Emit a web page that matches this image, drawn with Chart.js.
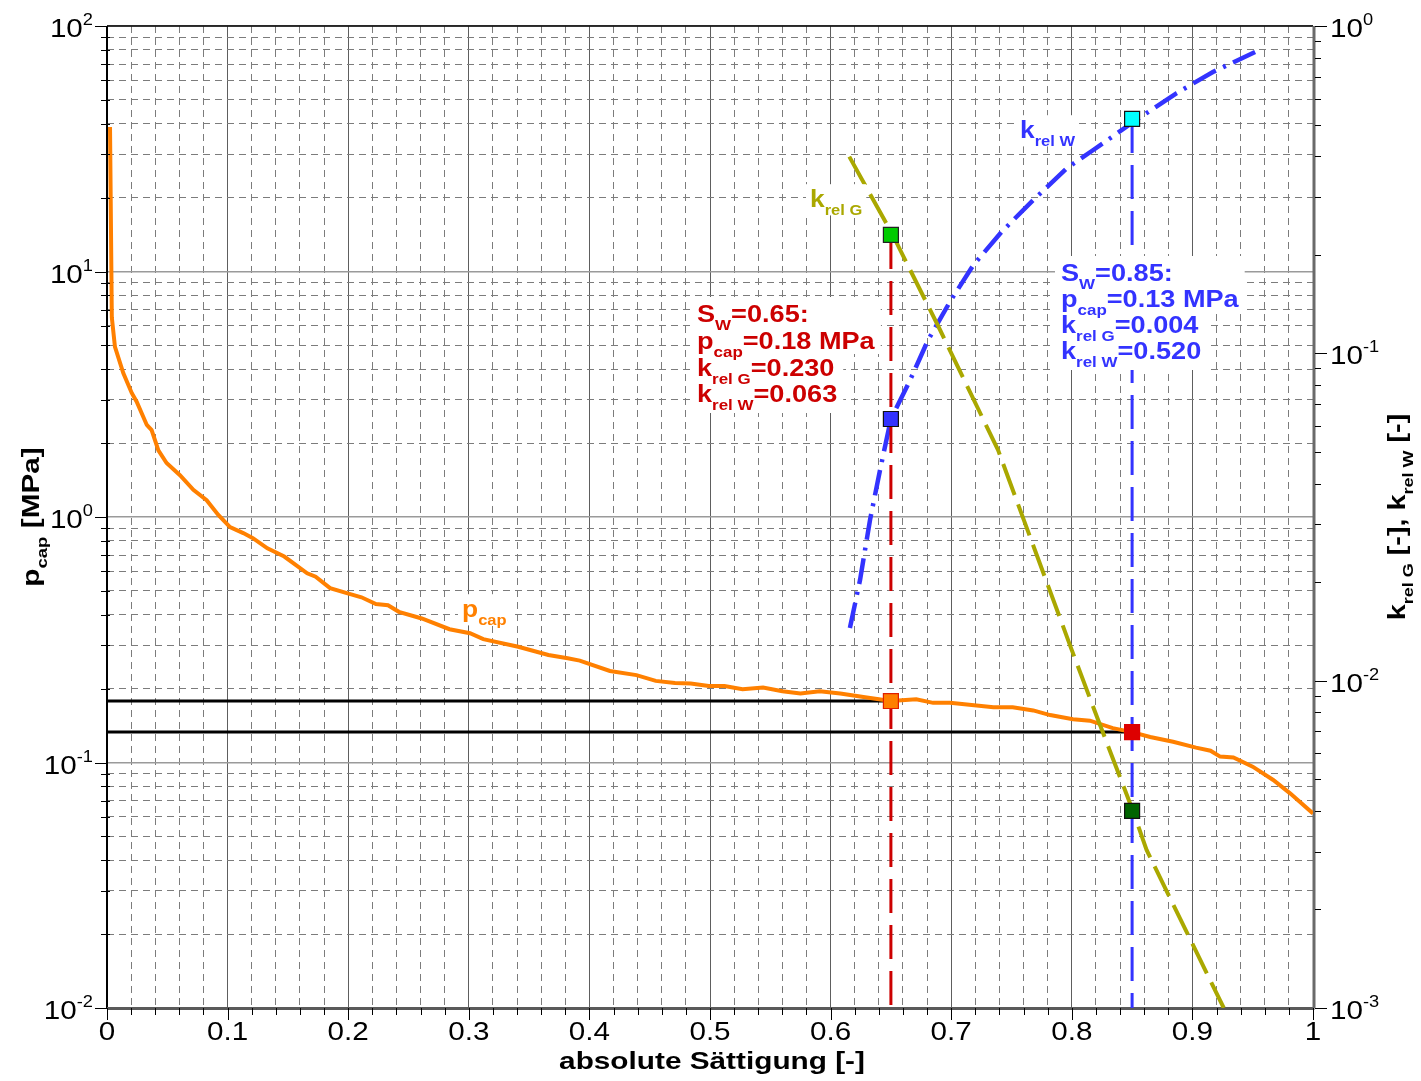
<!DOCTYPE html>
<html><head><meta charset="utf-8">
<script src="https://cdn.jsdelivr.net/npm/chart.js@4.4.0/dist/chart.umd.min.js"></script>
<style>html,body{margin:0;padding:0;background:#fff;}canvas{display:block;}</style>
</head><body>
<canvas id="c" width="1421" height="1081"></canvas>
<script>
// ---------------- data ----------------
const swPcap = [0.0025,0.004,0.0066,0.0135,0.0205,0.0246,0.033,0.037,0.0426,0.0494,0.0605,0.0716,0.0826,0.0923,0.102,0.113,0.121,0.133,0.147,0.166,0.173,0.185,0.201,0.211,0.223,0.233,0.242,0.261,0.284,0.301,0.312,0.341,0.366,0.382,0.392,0.417,0.439,0.455,0.471,0.484,0.499,0.512,0.527,0.544,0.560,0.575,0.591,0.608,0.630,0.65,0.671,0.685,0.699,0.735,0.751,0.768,0.782,0.801,0.815,0.834,0.85,0.865,0.884,0.903,0.915,0.923,0.934,0.950,0.967,0.981,1.0];
const pcap = [38.8,6.5,4.93,3.86,3.2,2.95,2.37,2.26,1.87,1.66,1.48,1.29,1.17,1.02,0.91,0.86,0.82,0.745,0.69,0.59,0.571,0.513,0.486,0.471,0.442,0.437,0.411,0.386,0.349,0.336,0.318,0.296,0.274,0.266,0.26,0.236,0.227,0.215,0.211,0.210,0.205,0.205,0.199,0.202,0.195,0.191,0.195,0.191,0.184,0.178,0.181,0.175,0.175,0.168,0.168,0.163,0.156,0.150,0.148,0.138,0.133,0.127,0.1215,0.115,0.1117,0.1057,0.1048,0.0962,0.0849,0.0749,0.062];
const swKrelG = [0.6155,0.6515,0.690,0.7388,0.800,0.8234,0.8507,0.862,0.926];
const krelG = [0.399,0.230,0.1195,0.0507,0.0124,0.00732,0.004,0.00304,0.001];
const swKrelW = [0.616,0.6244,0.6327,0.641,0.65,0.6653,0.6808,0.699,0.7183,0.7419,0.768,0.7958,0.8178,0.851,0.887,0.917,0.952];
const krelW = [0.01448,0.0203,0.031,0.044,0.063,0.0819,0.1098,0.1438,0.186,0.2352,0.294,0.3674,0.418,0.509,0.624,0.7235,0.833];
const markSw = [0.65, 0.85];
const markPcap = [0.178, 0.133];
const markKrelG = [0.23, 0.004];
const markKrelW = [0.063, 0.52];
const xTickValues = [0,0.1,0.2,0.3,0.4,0.5,0.6,0.7,0.8,0.9,1];
const xTickLabels = ['0','0.1','0.2','0.3','0.4','0.5','0.6','0.7','0.8','0.9','1'];
const pcapExponents = [-2,-1,0,1,2];
const krelExponents = [-3,-2,-1,0];
const xTitle = 'absolute Sättigung [-]';

// ---------------- helpers ----------------
const FONT = '"Liberation Sans", Arial, sans-serif';
const pts = (xs, ys) => xs.map((x, i) => ({x, y: ys[i]}));
function fstr(bold, size){ return (bold ? 'bold ' : '') + size + 'px ' + FONT; }
function richWidth(ctx, parts, o){
  let w = 0;
  for (const p of parts){ ctx.font = fstr(o.bold, p.s ? o.small : o.size); w += ctx.measureText(p.t).width; }
  return w * o.sx;
}
function drawRich(ctx, parts, x, y, o){
  const w = richWidth(ctx, parts, o);
  const x0 = o.align === 'right' ? x - w : o.align === 'center' ? x - w/2 : x;
  if (o.bg){
    ctx.fillStyle = '#fff';
    ctx.fillRect(x0 - 4, y - o.size*0.95, (o.bgW || w) + 8, o.size*1.3);
  }
  ctx.save();
  ctx.translate(x0, y);
  ctx.scale(o.sx, 1);
  ctx.fillStyle = o.color; ctx.textBaseline = 'alphabetic'; ctx.textAlign = 'left';
  let cx = 0;
  for (const p of parts){
    ctx.font = fstr(o.bold, p.s ? o.small : o.size);
    const dy = p.s === 'sub' ? o.subDy : p.s === 'sup' ? o.supDy : 0;
    ctx.fillText(p.t, cx, dy);
    cx += ctx.measureText(p.t).width;
  }
  ctx.restore();
  return w;
}
const isDecade = v => Math.abs(Math.log10(v) - Math.round(Math.log10(v))) < 1e-9;
function logTicks(e0, e1){
  const t = [];
  for (let e = e0; e < e1; e++) for (let m = 1; m < 10; m++) t.push({value: m*Math.pow(10, e), major: m === 1});
  t.push({value: Math.pow(10, e1), major: true});
  return t;
}
const xMinorTicks = () => Array.from({length: 51}, (_, i) => ({value: i/50, major: i % 5 === 0}));

const BLUE = '#3333ff', RED = '#cc0000', OLIVE = '#aaa800', ORANGE = '#ff8000';

// ---------------- plugin ----------------
const deco = {
  id: 'deco',
  beforeDatasetsDraw(chart){
    const {ctx, chartArea: a} = chart;
    ctx.save();
    ctx.lineCap = 'butt';
    ctx.strokeStyle = '#000'; ctx.lineWidth = 2;
    ctx.beginPath(); ctx.moveTo(a.left, a.top); ctx.lineTo(a.left, a.bottom); ctx.stroke();
    ctx.lineWidth = 1.5;
    ctx.beginPath(); ctx.moveTo(a.left, a.top); ctx.lineTo(a.right, a.top); ctx.stroke();
    ctx.strokeStyle = '#5a5a5a'; ctx.lineWidth = 3;
    ctx.beginPath(); ctx.moveTo(a.left, a.bottom + 0.5); ctx.lineTo(a.right + 1.5, a.bottom + 0.5); ctx.stroke();
    ctx.strokeStyle = '#6a6a6a';
    ctx.beginPath(); ctx.moveTo(a.right + 1, a.top); ctx.lineTo(a.right + 1, a.bottom); ctx.stroke();
    ctx.restore();
  },
  afterDatasetsDraw(chart){
    const {ctx} = chart;
    ctx.save();
    const lab = {bold: true, size: 24, small: 15, sx: 1.1, subDy: 8, bg: true};
    drawRich(ctx, [{t:'p'},{t:'cap',s:'sub'}], 462, 617, Object.assign({color: ORANGE}, lab));
    drawRich(ctx, [{t:'k'},{t:'rel G',s:'sub'}], 810, 207, Object.assign({color: OLIVE}, lab));
    drawRich(ctx, [{t:'k'},{t:'rel W',s:'sub'}], 1020, 138, Object.assign({color: BLUE}, lab));

    const block = (i, x, bases, color) => {
      const lines = [
        [{t:'S'},{t:'W',s:'sub'},{t:'=' + markSw[i].toFixed(2) + ':'}],
        [{t:'p'},{t:'cap',s:'sub'},{t:'=' + markPcap[i].toFixed(2) + ' MPa'}],
        [{t:'k'},{t:'rel G',s:'sub'},{t:'=' + markKrelG[i].toFixed(3)}],
        [{t:'k'},{t:'rel W',s:'sub'},{t:'=' + markKrelW[i].toFixed(3)}]
      ];
      const o = {bold: true, size: 24, small: 15, sx: 1.13, subDy: 8, color};
      const ws = lines.map(l => richWidth(ctx, l, o));
      ctx.fillStyle = '#fff';
      lines.forEach((l, k) => {
        const bw = Math.max(ws[k], k < 3 ? ws[k+1] : 0);
        ctx.fillRect(x - 6, bases[k] - 25, bw + 12, k === 3 ? 36 : 30);
      });
      lines.forEach((l, k) => drawRich(ctx, l, x, bases[k], o));
    };
    block(0, 697, [322, 349, 375.5, 402], RED);
    block(1, 1061, [281, 307, 333, 359], BLUE);
    ctx.restore();
  },
  afterDraw(chart){
    const {ctx, chartArea: a, scales} = chart;
    const xs = scales.x, ys = scales.y, y2 = scales.y2;
    ctx.save();
    ctx.strokeStyle = '#000'; ctx.lineWidth = 1;
    const seg = (x1, y1, x2, y2_) => { ctx.beginPath(); ctx.moveTo(x1, y1); ctx.lineTo(x2, y2_); ctx.stroke(); };
    xMinorTicks().forEach(t => {
      const px = Math.round(xs.getPixelForValue(t.value)) + 0.5;
      seg(px, a.bottom, px, a.bottom + (t.major ? 12 : 7));
    });
    logTicks(pcapExponents[0], pcapExponents[pcapExponents.length-1]).forEach(t => {
      const py = Math.round(ys.getPixelForValue(t.value)) + 0.5;
      if (t.major) seg(a.left - 12, py, a.left + 1, py); else seg(a.left - 6, py, a.left + 3, py);
    });
    logTicks(krelExponents[0], krelExponents[krelExponents.length-1]).forEach(t => {
      const py = Math.round(y2.getPixelForValue(t.value)) + 0.5;
      if (t.major) seg(a.right + 2, py, a.right + 14, py); else seg(a.right + 2, py, a.right + 8, py);
    });
    const tk = {bold: false, size: 26, small: 16, sx: 1.14, supDy: -12, color: '#000'};
    xTickValues.forEach((v, i) => {
      drawRich(ctx, [{t: xTickLabels[i]}], xs.getPixelForValue(v), a.bottom + 32, Object.assign({align: 'center'}, tk));
    });
    pcapExponents.forEach(e => {
      const py = ys.getPixelForValue(Math.pow(10, e));
      drawRich(ctx, [{t:'10'},{t:String(e),s:'sup'}], 93, py + 11, Object.assign({align: 'right'}, tk));
    });
    krelExponents.forEach(e => {
      const py = y2.getPixelForValue(Math.pow(10, e));
      drawRich(ctx, [{t:'10'},{t:String(e),s:'sup'}], 1330, py + 11, Object.assign({align: 'left'}, tk));
    });
    const tt = {bold: true, size: 24, small: 15, sx: 1.24, subDy: 8, color: '#000', align: 'center'};
    drawRich(ctx, [{t: xTitle}], (a.left + a.right)/2 + 2, 1069, tt);
    const cy = (a.top + a.bottom)/2;
    ctx.save(); ctx.translate(39, cy); ctx.rotate(-Math.PI/2);
    drawRich(ctx, [{t:'p'},{t:'cap',s:'sub'},{t:' [MPa]'}], 0, 0, tt);
    ctx.restore();
    ctx.save(); ctx.translate(1405, cy); ctx.rotate(-Math.PI/2);
    drawRich(ctx, [{t:'k'},{t:'rel G',s:'sub'},{t:' [-], k'},{t:'rel W',s:'sub'},{t:' [-]'}], 0, 0, Object.assign({}, tt, {sx: 1.2}));
    ctx.restore();
    ctx.restore();
  }
};

// ---------------- chart ----------------
const gridX = {
  color: c => (c.tick && c.tick.major) ? '#5e5e5e' : '#7c7c7c',
  lineWidth: 1, drawTicks: false
};
const gridY = {
  color: c => (c.tick && isDecade(c.tick.value)) ? '#9a9a9a' : '#7c7c7c',
  lineWidth: c => (c.tick && isDecade(c.tick.value)) ? 1.5 : 1, drawTicks: false
};
const dashMinorX = c => (c.tick && !c.tick.major) ? [7, 5] : [];
const dashMinorY = c => (c.tick && !isDecade(c.tick.value)) ? [7, 5] : [];

const lineBase = {pointRadius: 0, fill: false, tension: 0, borderCapStyle: 'butt'};
new Chart(document.getElementById('c'), {
  type: 'line',
  data: {
    datasets: [
      {label: 'markers p', data: pts(markSw, markPcap), yAxisID: 'y', showLine: false, order: 0,
       pointStyle: 'rect', pointRadius: 10.6, pointBorderWidth: 1.2,
       pointBackgroundColor: [ORANGE, '#dd0000'], pointBorderColor: ['#e02000', '#dd0000']},
      {label: 'markers kG', data: pts(markSw, markKrelG), yAxisID: 'y2', showLine: false, order: 0,
       pointStyle: 'rect', pointRadius: 10.6, pointBorderWidth: 1.2,
       pointBackgroundColor: ['#00cc00', '#006400'], pointBorderColor: ['#222', '#111']},
      {label: 'markers kW', data: pts(markSw, markKrelW), yAxisID: 'y2', showLine: false, order: 0,
       pointStyle: 'rect', pointRadius: 10.6, pointBorderWidth: 1.2,
       pointBackgroundColor: [BLUE, '#00ffff'], pointBorderColor: ['#111', '#111']},
      Object.assign({label: 'v1', data: [{x: markSw[0], y: markKrelG[0]}, {x: markSw[0], y: 0.001}], yAxisID: 'y2',
       borderColor: RED, borderWidth: 3, borderDash: [34, 12], order: 1}, lineBase),
      Object.assign({label: 'v2', data: [{x: markSw[1], y: markKrelW[1]}, {x: markSw[1], y: 0.001}], yAxisID: 'y2',
       borderColor: BLUE, borderWidth: 3, borderDash: [34, 12], order: 1}, lineBase),
      Object.assign({label: 'krelG', data: pts(swKrelG, krelG), yAxisID: 'y2',
       borderColor: OLIVE, borderWidth: 4, borderDash: [33, 10], order: 2}, lineBase),
      Object.assign({label: 'krelW', data: pts(swKrelW, krelW), yAxisID: 'y2',
       borderColor: BLUE, borderWidth: 4.5, borderDash: [26, 8, 3, 8], order: 2}, lineBase),
      Object.assign({label: 'pcap', data: pts(swPcap, pcap), yAxisID: 'y',
       borderColor: ORANGE, borderWidth: 4, order: 3}, lineBase),
      Object.assign({label: 'h1', data: [{x: 0, y: markPcap[0]}, {x: markSw[0], y: markPcap[0]}], yAxisID: 'y',
       borderColor: '#000', borderWidth: 3, order: 4}, lineBase),
      Object.assign({label: 'h2', data: [{x: 0, y: markPcap[1]}, {x: markSw[1], y: markPcap[1]}], yAxisID: 'y',
       borderColor: '#000', borderWidth: 3, order: 4}, lineBase)
    ]
  },
  options: {
    responsive: false, animation: false, devicePixelRatio: 1,
    layout: {padding: {left: 107, right: 108, top: 26, bottom: 73}},
    plugins: {legend: {display: false}, tooltip: {enabled: false}},
    scales: {
      x: {type: 'linear', min: 0, max: 1, afterBuildTicks: s => { s.ticks = xMinorTicks(); },
          ticks: {display: false}, grid: gridX, border: {display: false, dash: dashMinorX}},
      y: {type: 'logarithmic', position: 'left', min: 0.01, max: 100,
          afterBuildTicks: s => { s.ticks = logTicks(pcapExponents[0], pcapExponents[pcapExponents.length-1]); },
          ticks: {display: false}, grid: gridY, border: {display: false, dash: dashMinorY}},
      y2: {type: 'logarithmic', position: 'right', min: 0.001, max: 1,
          afterBuildTicks: s => { s.ticks = logTicks(krelExponents[0], krelExponents[krelExponents.length-1]); },
          ticks: {display: false}, grid: {display: false, drawTicks: false}, border: {display: false}}
    }
  },
  plugins: [deco]
});
</script>
</body></html>
